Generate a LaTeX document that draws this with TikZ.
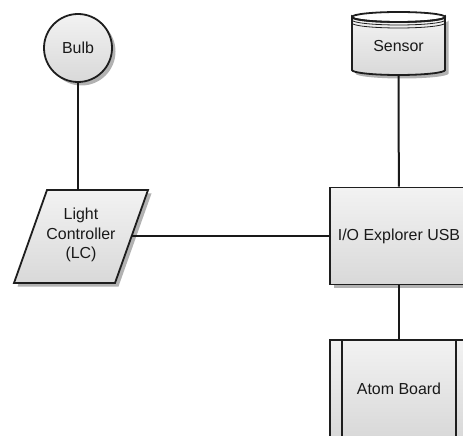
\documentclass[tikz,border=0pt]{standalone}
\usepackage{fontspec}
\setmainfont{Liberation Sans}
\usetikzlibrary{shadows}
\definecolor{edge}{HTML}{1e1e1e}
\begin{document}
\begin{tikzpicture}[x=1bp,y=-1bp,
  txt/.style={font=\fontsize{16}{19.5}\selectfont, text=black!90, align=center, inner sep=0},
  shapefill/.style={draw=edge, line width=1.8bp, top color=gray!10, bottom color=gray!30,
    drop shadow={shadow xshift=3.5bp, shadow yshift=-3.5bp, opacity=0.3, fill=black}},
  wire/.style={draw=black!90, line width=2bp}]
\useasboundingbox (0,0) rectangle (463,436);

% Bulb
\node[shapefill, circle, minimum size=68bp, inner sep=0, txt] (bulb) at (78,48) {Bulb};

% Sensor (cylinder)
\path[shapefill] (352,17) arc[start angle=180, end angle=360, x radius=46.5bp, y radius=5bp]
  -- (445,70) arc[start angle=0, end angle=180, x radius=46.5bp, y radius=-5bp] -- cycle;
\draw[draw=edge, line width=1.8bp] (352,17) arc[start angle=180, end angle=-180, x radius=46.5bp, y radius=5bp];
\draw[draw=edge, line width=0.8bp] (352,20) arc[start angle=180, end angle=360, x radius=46.5bp, y radius=5bp];
\draw[draw=edge, line width=0.8bp] (352,23) arc[start angle=180, end angle=360, x radius=46.5bp, y radius=5bp];
\node[txt] (sensor) at (398.5,46) {Sensor};
\coordinate (sensorBottom) at (398.5,75);

% Light controller (parallelogram)
\path[shapefill] (47,190) -- (148,190) -- (115,283) -- (14,283) -- cycle;
\node[txt] (lc) at (81,235) {Light\\Controller\\(LC)};
\coordinate (lcTop) at (78,190);
\coordinate (lcRight) at (131,236);

% I/O Explorer USB
\node[shapefill, rectangle, minimum width=138bp, minimum height=97bp, txt] (io) at (399,236) {I/O Explorer USB};

% Atom Board
\node[shapefill, rectangle, minimum width=138bp, minimum height=97bp, txt] (atom) at (399,388.5) {Atom Board};
\draw[draw=edge, line width=1.8bp] ([xshift=13bp]atom.north west) -- ([xshift=13bp]atom.south west);
\draw[draw=edge, line width=1.8bp] ([xshift=-13bp]atom.north east) -- ([xshift=-13bp]atom.south east);

% connectors
\draw[wire] (bulb) -- (lcTop);
\draw[wire] (sensorBottom) -- (io);
\draw[wire] (lcRight) -- (io);
\draw[wire] (io) -- (atom);
\end{tikzpicture}
\end{document}
